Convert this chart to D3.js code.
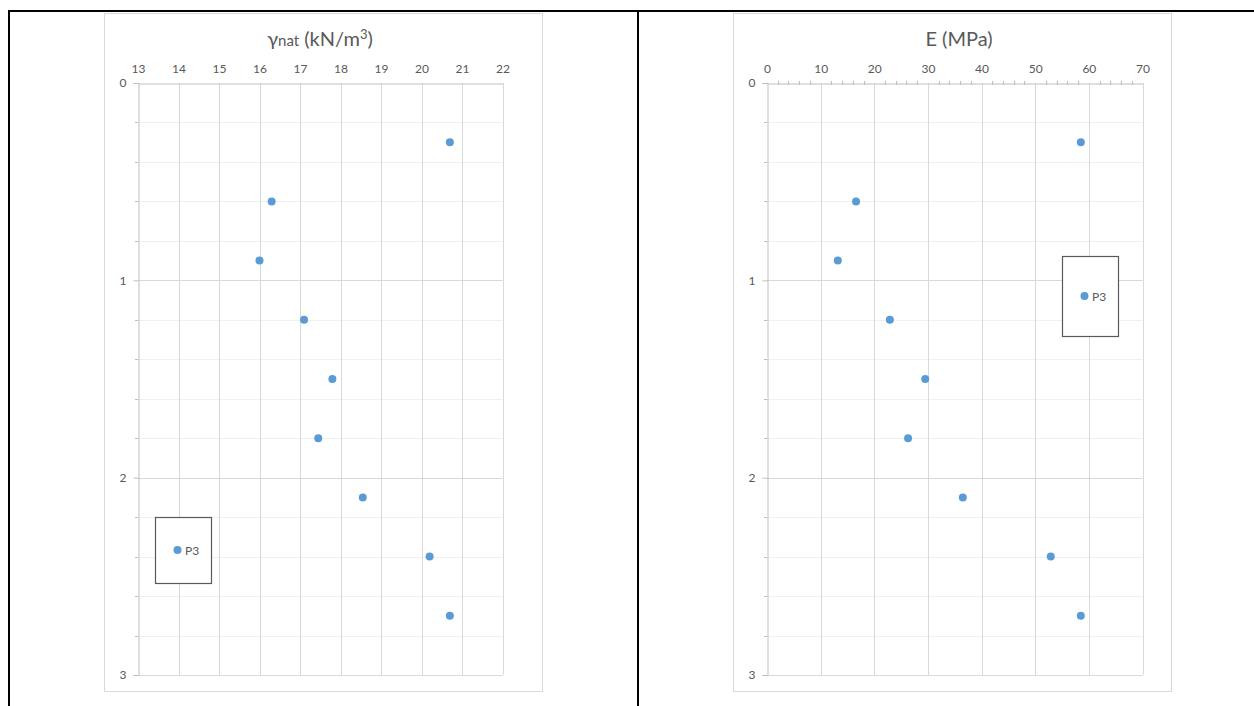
<!DOCTYPE html>
<html>
<head>
<meta charset="utf-8">
<script src="https://cdn.jsdelivr.net/npm/d3@7"></script>
<style>
  html, body { margin: 0; padding: 0; background: #fff; }
  svg { display: block; }
  text { font-family: Lato, "Open Sans", sans-serif; fill: #595959; }
</style>
</head>
<body>
<svg id="chart" width="1254" height="706"></svg>
<script>
// Sample depths (m) for borehole P3
const depths = [0.3, 0.6, 0.9, 1.2, 1.5, 1.8, 2.1, 2.4, 2.7];
// Natural unit weight (kN/m3)
const gammaNat = [20.7, 16.3, 16.0, 17.1, 17.8, 17.45, 18.55, 20.2, 20.7];
// Elastic modulus (MPa)
const modulusE = [58.5, 16.6, 13.2, 22.9, 29.5, 26.3, 36.5, 52.9, 58.5];
const seriesName = "P3";
const depthTicks = [0, 1, 2, 3];
const gammaTicks = [13, 14, 15, 16, 17, 18, 19, 20, 21, 22];
const eTicks = [0, 10, 20, 30, 40, 50, 60, 70];

const svg = d3.select("#chart");

// Page frame lines (table borders)
const frame = svg.append("g").attr("stroke", "#000").attr("stroke-width", 2);
frame.append("line").attr("x1", 8).attr("x2", 1254).attr("y1", 11).attr("y2", 11);
frame.append("line").attr("x1", 9).attr("x2", 9).attr("y1", 10).attr("y2", 706);
frame.append("line").attr("x1", 638).attr("x2", 638).attr("y1", 10).attr("y2", 706);

function drawPanel(opts) {
  const g = svg.append("g");
  // chart area border
  g.append("rect")
    .attr("x", opts.box[0] + 0.5).attr("y", opts.box[1] + 0.5)
    .attr("width", opts.box[2] - opts.box[0]).attr("height", opts.box[3] - opts.box[1])
    .attr("fill", "#fff").attr("stroke", "#d9d9d9");

  const x = d3.scaleLinear().domain(opts.xDomain).range(opts.xRange);
  const y = d3.scaleLinear().domain([0, 3]).range([83, 675]);
  const left = opts.xRange[0], right = opts.xRange[1];

  // minor horizontal gridlines every 0.2 m
  const minorY = d3.range(0.2, 3, 0.2).filter(v => Math.abs(v - Math.round(v)) > 1e-6);
  g.append("g").selectAll("line").data(minorY).join("line")
    .attr("x1", left).attr("x2", right)
    .attr("y1", d => Math.round(y(d)) + 0.5).attr("y2", d => Math.round(y(d)) + 0.5)
    .attr("stroke", "#f0f0f0");

  // major horizontal gridlines
  g.append("g").selectAll("line").data([1, 2, 3]).join("line")
    .attr("x1", left).attr("x2", right)
    .attr("y1", d => Math.round(y(d)) + 0.5).attr("y2", d => Math.round(y(d)) + 0.5)
    .attr("stroke", "#d9d9d9");

  // vertical gridlines
  g.append("g").selectAll("line").data(opts.xTicks.slice(1)).join("line")
    .attr("x1", d => Math.round(x(d)) + 0.5).attr("x2", d => Math.round(x(d)) + 0.5)
    .attr("y1", y(0)).attr("y2", y(3))
    .attr("stroke", "#d9d9d9");

  // top (value) axis
  const xAxis = d3.axisTop(x).tickValues(opts.xTicks).tickSize(0).tickPadding(11).tickFormat(d3.format("d"));
  const xa = g.append("g").attr("transform", `translate(0,${Math.round(y(0)) + 0.5})`).call(xAxis);
  xa.select(".domain").attr("stroke", "#bfbfbf");
  xa.selectAll("text").attr("font-size", 12).attr("fill", "#595959").style("font-family", "Lato, sans-serif");

  // minor ticks on top axis
  if (opts.xMinor) {
    g.append("g").selectAll("line").data(opts.xMinor).join("line")
      .attr("x1", d => Math.round(x(d)) + 0.5).attr("x2", d => Math.round(x(d)) + 0.5)
      .attr("y1", y(0) - 2).attr("y2", y(0) + 2)
      .attr("stroke", "#bfbfbf");
  }

  // depth axis (left)
  const yAxis = d3.axisLeft(y).tickValues(depthTicks).tickSize(5).tickPadding(7).tickFormat(d3.format("d"));
  const ya = g.append("g").attr("transform", `translate(${Math.round(left) + 0.5},0)`).call(yAxis);
  ya.select(".domain").attr("stroke", "#bfbfbf");
  ya.selectAll(".tick line").attr("stroke", "#bfbfbf");
  ya.selectAll("text").attr("font-size", 12).attr("fill", "#595959").style("font-family", "Lato, sans-serif");
  g.append("g").selectAll("line").data(minorY).join("line")
    .attr("x1", left - 3).attr("x2", left)
    .attr("y1", d => Math.round(y(d)) + 0.5).attr("y2", d => Math.round(y(d)) + 0.5)
    .attr("stroke", "#bfbfbf");

  // title
  opts.title(g.append("text")
    .attr("x", opts.titleX).attr("y", 46)
    .attr("text-anchor", "middle").attr("font-size", 20));

  // data points
  g.append("g").selectAll("circle").data(depths).join("circle")
    .attr("cx", (d, i) => x(opts.values[i])).attr("cy", d => y(d))
    .attr("r", 4).attr("fill", "#5b9bd5");

  // legend
  const lb = opts.legend;
  g.append("rect").attr("x", lb[0] + 0.5).attr("y", lb[1] + 0.5)
    .attr("width", lb[2] - lb[0]).attr("height", lb[3] - lb[1])
    .attr("fill", "#fff").attr("stroke", "#595959").attr("stroke-width", 1.2);
  const ly = (lb[1] + lb[3]) / 2;
  g.append("circle").attr("cx", lb[0] + 22.5).attr("cy", ly).attr("r", 4).attr("fill", "#5b9bd5");
  g.append("text").attr("x", lb[0] + 30).attr("y", ly + 4.5).attr("font-size", 12).text(seriesName);
}

drawPanel({
  box: [104, 13, 542, 691],
  xDomain: [13, 22], xRange: [138, 502.5],
  xTicks: gammaTicks,
  values: gammaNat,
  legend: [155, 517, 211, 583],
  titleX: 320,
  title: t => {
    t.append("tspan").text("γ");
    t.append("tspan").attr("font-size", 15).text("nat");
    t.append("tspan").text(" (kN/m");
    t.append("tspan").attr("font-size", 13).attr("dy", -7).text("3");
    t.append("tspan").attr("dy", 7).text(")");
  }
});

drawPanel({
  box: [733, 13, 1171, 691],
  xDomain: [0, 70], xRange: [767, 1142.5],
  xTicks: eTicks,
  xMinor: d3.range(2, 70, 2).filter(v => v % 10 !== 0),
  values: modulusE,
  legend: [1062, 256, 1118, 336],
  titleX: 959,
  title: t => t.text("E (MPa)")
});
</script>
</body>
</html>
